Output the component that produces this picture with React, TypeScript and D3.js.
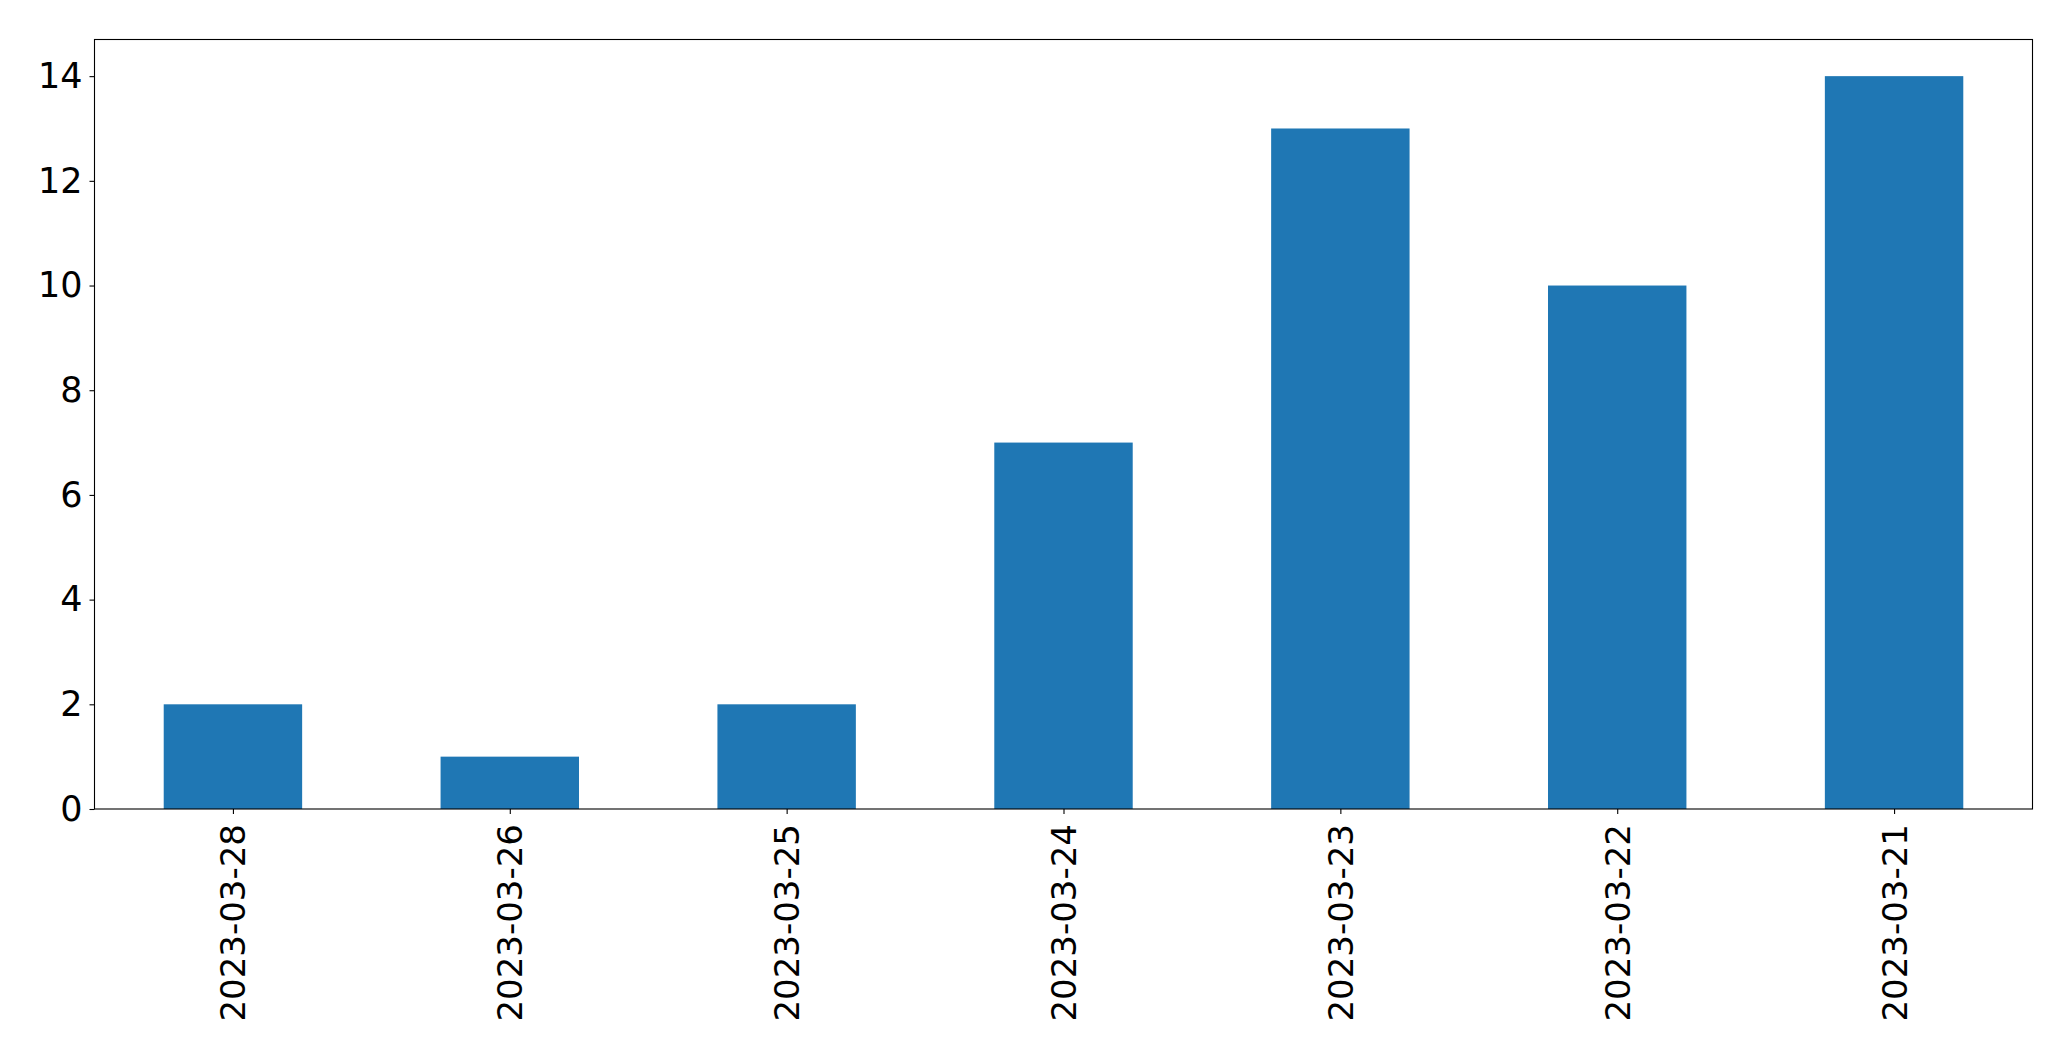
import * as React from "react";
import * as d3 from "d3";

const categories: string[] = [
    "2023-03-28", "2023-03-26", "2023-03-25", "2023-03-24",
    "2023-03-23", "2023-03-22", "2023-03-21"
];
const counts: number[] = [2, 1, 2, 7, 13, 10, 14];
const yTickValues: number[] = [0, 2, 4, 6, 8, 10, 12, 14];

const barColor: string = "#1f77b4";
const fontFamily: string = "'DejaVu Sans', sans-serif";

type MarginType = {
    top: number;
    right: number;
    bottom: number;
    left: number;
};

const width: number = 2071;
const height: number = 1061;
const margin: MarginType = { top: 39.5, right: 38.5, bottom: 252, left: 94.5 };

const App = (): JSX.Element => {
    const ref = React.useRef<SVGSVGElement>(null);

    React.useEffect(() => {
        document.body.style.margin = "0";
        const svg = d3.select(ref.current);
        svg.selectAll("*").remove();

        const innerW: number = width - margin.left - margin.right;
        const innerH: number = height - margin.top - margin.bottom;

        // matplotlib style: categories at integer positions, xlim -0.5..n-0.5
        const xScale = d3.scaleLinear()
            .domain([-0.5, categories.length - 0.5])
            .range([0, innerW]);
        const yScale = d3.scaleLinear()
            .domain([0, d3.max(counts) * 1.05])
            .range([innerH, 0]);

        const g = svg.append("g")
            .attr("transform", `translate(${margin.left},${margin.top})`);

        g.selectAll(".bar")
            .data(counts).enter().append("rect")
            .attr("class", "bar")
            .attr("x", (d: number, i: number) => xScale(i - 0.25))
            .attr("width", xScale(0.25) - xScale(-0.25))
            .attr("y", (d: number) => yScale(d))
            .attr("height", (d: number) => yScale(0) - yScale(d))
            .attr("fill", barColor);

        const yAxis = d3.axisLeft(yScale)
            .tickValues(yTickValues)
            .tickFormat(d3.format("d"))
            .tickSizeInner(5)
            .tickSizeOuter(0)
            .tickPadding(7);
        const yG = g.append("g").call(yAxis);
        yG.select(".domain").remove();
        yG.selectAll("line").attr("stroke", "#000").attr("stroke-width", 1.1);
        yG.selectAll("text")
            .attr("font-family", fontFamily)
            .attr("font-size", 35)
            .attr("fill", "#000");

        const xAxis = d3.axisBottom(xScale)
            .tickValues(categories.map((c: string, i: number) => i))
            .tickFormat((d: number) => categories[d])
            .tickSizeInner(5)
            .tickSizeOuter(0);
        const xG = g.append("g")
            .attr("transform", `translate(0,${innerH})`)
            .call(xAxis);
        xG.select(".domain").remove();
        xG.selectAll("line").attr("stroke", "#000").attr("stroke-width", 1.1);
        xG.selectAll("text")
            .attr("font-family", fontFamily)
            .attr("font-size", 34)
            .attr("fill", "#000")
            .attr("dy", null)
            .attr("y", 0)
            .attr("text-anchor", "end")
            .attr("dominant-baseline", "central")
            .attr("transform", "translate(0,15) rotate(-90)");

        g.append("rect")
            .attr("x", 0)
            .attr("y", 0)
            .attr("width", innerW)
            .attr("height", innerH)
            .attr("fill", "none")
            .attr("stroke", "#000")
            .attr("stroke-width", 1.1);
    }, []);

    return <svg ref={ref} width={width} height={height} style={{ display: "block", background: "#fff" }} />;
};

export default App;
